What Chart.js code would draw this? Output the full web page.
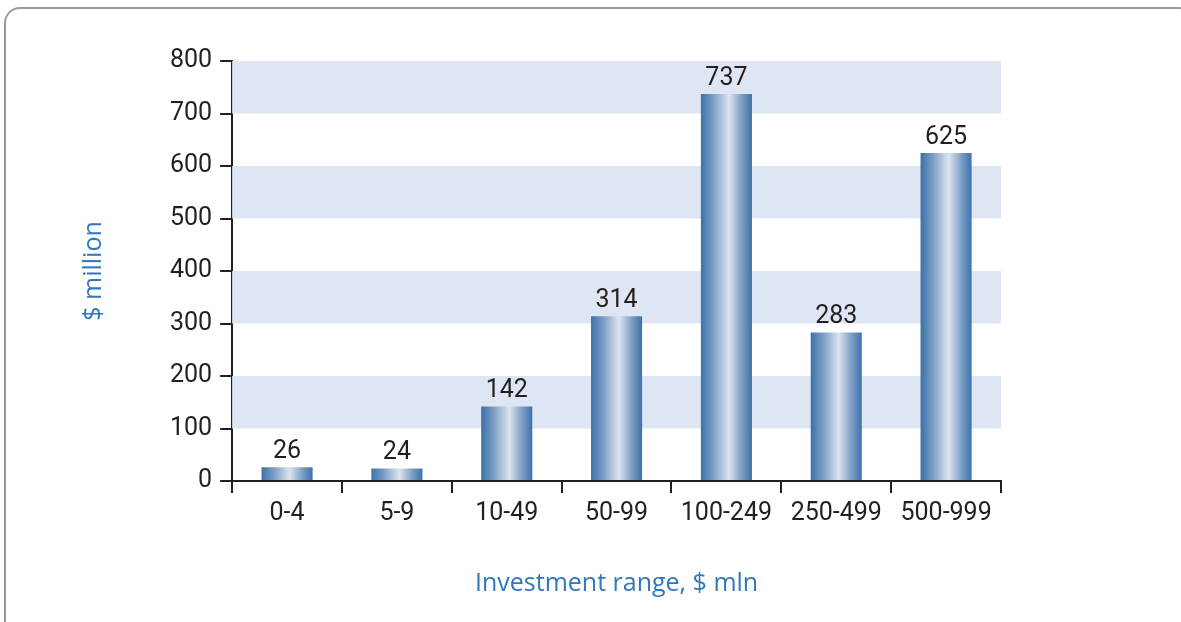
<!DOCTYPE html>
<html lang="en">

<head>
    <meta charset="UTF-8">
    <title>Investment range</title>
    <script src="https://cdn.jsdelivr.net/npm/chart.js"></script>
    <style>
        body {
            margin: 0;
            background: #fff;
        }

        .frame {
            position: absolute;
            left: 4px;
            top: 7px;
            width: 1190px;
            height: 640px;
            border: 2px solid #9a9a9a;
            border-radius: 16px;
            box-sizing: border-box;
        }

        .myChart {
            position: absolute;
            left: 0;
            top: 0;
            width: 1181px;
            height: 622px;
        }
    </style>
</head>

<body>
    <div class="frame"></div>
    <div class="myChart">
        <canvas id="myChart"></canvas>
    </div>

    <script>
        // data
        const categories = ['0-4', '5-9', '10-49', '50-99', '100-249', '250-499', '500-999'];
        const values = [26, 24, 142, 314, 737, 283, 625];
        const yTicks = [0, 100, 200, 300, 400, 500, 600, 700, 800];
        const bands = [[100, 200], [300, 400], [500, 600], [700, 800]];

        const axisColor = '#231f20';
        const titleColor = '#2f78bd';
        let gradients = [];

        // shaded horizontal bands + bar gradients
        const bandPlugin = {
            id: 'bands',
            afterLayout(chart) {
                const x = chart.scales.x;
                const ctx = chart.ctx;
                const half = (x.width / categories.length) * 0.465 / 2;
                gradients = categories.map((c, i) => {
                    const cx = x.getPixelForValue(i);
                    const g = ctx.createLinearGradient(cx - half, 0, cx + half, 0);
                    g.addColorStop(0, '#3a72a9');
                    g.addColorStop(0.25, '#7e9fc6');
                    g.addColorStop(0.55, '#dce4ef');
                    g.addColorStop(0.8, '#7d9ec5');
                    g.addColorStop(1, '#3b73aa');
                    return g;
                });
            },
            beforeDatasetsDraw(chart) {
                const { ctx, chartArea, scales } = chart;
                ctx.save();
                ctx.fillStyle = '#dfe6f3';
                bands.forEach(b => {
                    const top = scales.y.getPixelForValue(b[1]);
                    const bot = scales.y.getPixelForValue(b[0]);
                    ctx.fillRect(chartArea.left, top, chartArea.right - chartArea.left, bot - top);
                });
                ctx.restore();
            },
            afterDatasetsDraw(chart) {
                const ctx = chart.ctx;
                const meta = chart.getDatasetMeta(0);
                ctx.save();
                ctx.fillStyle = axisColor;
                ctx.font = '25px Roboto';
                ctx.textAlign = 'center';
                ctx.textBaseline = 'bottom';
                meta.data.forEach((bar, i) => {
                    ctx.fillText(values[i], bar.x, bar.y - 3);
                });
                ctx.restore();
            }
        };

        const ctx = document.getElementById('myChart').getContext('2d');
        const myChart = new Chart(ctx, {
            type: 'bar',
            data: {
                labels: categories,
                datasets: [{
                    data: values,
                    backgroundColor: (c) => gradients[c.dataIndex] || '#3a72a9',
                    borderWidth: 0,
                    barPercentage: 0.465,
                    categoryPercentage: 1
                }]
            },
            plugins: [bandPlugin],
            options: {
                responsive: true,
                maintainAspectRatio: false,
                animation: false,
                layout: {
                    padding: { left: 75, right: 180, top: 61, bottom: 19 }
                },
                plugins: {
                    legend: { display: false },
                    tooltip: { enabled: false }
                },
                scales: {
                    x: {
                        grid: {
                            offset: true,
                            drawOnChartArea: false,
                            drawTicks: true,
                            tickLength: 12,
                            color: axisColor,
                            lineWidth: 2
                        },
                        border: { color: axisColor, width: 2 },
                        ticks: {
                            color: axisColor,
                            font: { family: 'Roboto', size: 25 },
                            padding: 6
                        },
                        title: {
                            display: true,
                            text: 'Investment range, $ mln',
                            color: titleColor,
                            font: { family: 'Open Sans', size: 25 },
                            padding: { top: 34 }
                        }
                    },
                    y: {
                        min: 0,
                        max: 800,
                        afterBuildTicks: (axis) => {
                            axis.ticks = yTicks.map(v => ({ value: v }));
                        },
                        grid: {
                            drawOnChartArea: false,
                            drawTicks: true,
                            tickLength: 12,
                            color: axisColor,
                            lineWidth: 2
                        },
                        border: { color: axisColor, width: 2 },
                        ticks: {
                            color: axisColor,
                            font: { family: 'Roboto', size: 25 },
                            padding: 8
                        },
                        title: {
                            display: true,
                            text: '$ million',
                            color: titleColor,
                            font: { family: 'Open Sans', size: 25 },
                            padding: { bottom: 53 }
                        }
                    }
                }
            }
        });
    </script>

</body>

</html>
